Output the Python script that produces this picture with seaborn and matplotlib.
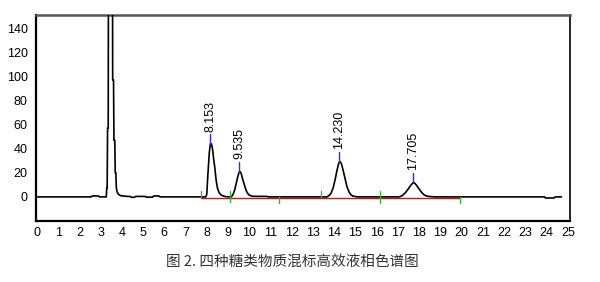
import matplotlib
matplotlib.use("Agg")
import matplotlib.pyplot as plt
import seaborn as sns
import pandas as pd
from matplotlib.ticker import MultipleLocator

# ---- data ----
time = [0.0, 2.55, 2.6, 2.9, 2.95, 3.27, 3.29, 3.31, 3.33, 3.36, 3.38, 3.55, 3.57, 3.61,
        3.63, 3.67, 3.69, 3.72, 3.74, 3.78, 3.85, 3.95, 4.2, 4.4, 4.45, 4.6, 4.65, 5.1,
        5.15, 5.45, 5.5, 5.75, 5.8, 7.95,
        8.0, 8.05, 8.12, 8.17, 8.22, 8.27, 8.32, 8.38, 8.44, 8.5, 8.58, 8.68, 8.78, 8.9, 9.15,
        9.22, 9.3, 9.37, 9.45, 9.52, 9.57, 9.62, 9.7, 9.77, 9.86, 9.96, 10.06, 10.16, 10.85, 10.9,
        13.65, 13.75, 13.85, 13.95, 14.05, 14.13, 14.22, 14.28, 14.34, 14.42, 14.5, 14.6, 14.7,
        14.8, 14.9, 15.05, 15.1,
        17.05, 17.2, 17.35, 17.5, 17.62, 17.72, 17.78, 17.88, 17.98, 18.08, 18.18, 18.3, 18.45,
        18.6, 18.75,
        23.9, 23.95, 24.35, 24.4, 24.7]
signal = [0.0, 0.0, 0.8, 0.8, 0.0, 0.0, 7.5, 7.5, 57, 57, 300, 300, 97, 97,
          47, 47, 20, 20, 8, 4, 2, 1, 0.5, 0.3, -0.3, -0.3, 0.4, 0.4,
          -0.2, -0.2, 0.8, 0.8, 0.0, 0.0,
          2, 18, 37, 44, 44, 40, 32, 24, 14, 7.5, 3.5, 1.5, 0.8, 0.2, 0.0,
          1.5, 5, 10, 16, 20.5, 21, 19.5, 14, 10, 5, 2, 1, 0.5, 0.4, 0.0,
          0.0, 1, 3, 7.5, 15, 22, 28.5, 29.3, 27.5, 22, 16, 8.5, 4,
          1.5, 0.6, 0.2, 0.0,
          0.0, 1, 3.5, 7, 10, 11.9, 11.6, 9.5, 7, 4.5, 2.5, 1, 0.4,
          0.2, 0.0,
          0.0, -0.9, -0.9, 0.0, 0.0]

peak_rt = [8.153, 9.535, 14.230, 17.705]
peak_height = [44, 21, 29.3, 11.9]
peak_labels = ["8.153", "9.535", "14.230", "17.705"]

marker_rt = [7.73, 9.07, 11.39, 13.37, 16.14, 19.93]
marker_lo = [0, -4.5, -5, 0, -5, -5]
marker_hi = [5, 4.5, 0, 5, 5, 0]

baseline_span = [7.73, 19.93]

x_ticks = list(range(0, 26))
y_ticks = [0, 20, 40, 60, 80, 100, 120, 140]
caption = "图 2. 四种糖类物质混标高效液相色谱图"

# ---- figure ----
sns.set_style("white")
plt.rcParams["font.family"] = ["Liberation Sans", "DejaVu Sans"]

fig = plt.figure(figsize=(6.0, 2.82), dpi=100)
ax = fig.add_axes([36 / 600, 1 - 221 / 282, (570 - 36) / 600, (221 - 15) / 282])

df = pd.DataFrame({"time": time, "signal": signal})
ax.plot(baseline_span, [-0.5, -0.5], color="#9a2a2a", lw=1.0, zorder=2)
sns.lineplot(data=df, x="time", y="signal", sort=False, estimator=None,
             color="black", lw=1.2, ax=ax, zorder=3)

for rt, lo, hi in zip(marker_rt, marker_lo, marker_hi):
    ax.plot([rt, rt], [lo, hi], color="#3cb043", lw=1.0, zorder=4)

for rt, h, lab in zip(peak_rt, peak_height, peak_labels):
    ax.plot([rt, rt], [h, h + 8], color="#2828ff", lw=1.0, zorder=4)
    ax.annotate(lab, xy=(rt, h + 9), xytext=(0, 1), textcoords="offset points",
                rotation=90, ha="center", va="bottom", fontsize=9, color="black")

ax.set_xlim(-0.04, 25.1)
ax.set_ylim(-20, 151)
ax.set_xticks(x_ticks)
ax.set_xticklabels([str(v) for v in x_ticks])
ax.set_yticks(y_ticks)
ax.set_yticklabels([str(v) for v in y_ticks])
ax.xaxis.set_minor_locator(MultipleLocator(0.2))
ax.yaxis.set_minor_locator(MultipleLocator(5))
ax.tick_params(axis="x", which="major", direction="in", length=3, width=0.8,
               labelsize=9, pad=4, colors="black")
ax.tick_params(axis="x", which="minor", direction="in", length=2, width=0.6)
ax.tick_params(axis="y", which="major", direction="out", length=4, width=0.8,
               labelsize=9, pad=2, colors="black")
ax.tick_params(axis="y", which="minor", direction="out", length=2, width=0.6)
ax.set_xlabel("")
ax.set_ylabel("")

for side in ["left", "bottom", "right"]:
    ax.spines[side].set_color("black")
    ax.spines[side].set_linewidth(1.6)
ax.spines["right"].set_linewidth(1.2)
ax.spines["top"].set_color("#555555")
ax.spines["top"].set_linewidth(1.8)

fig.text(0.488, 1 - 262 / 282, caption, ha="center", va="center", fontsize=10.5,
         color="#333333", family=["Noto Sans CJK SC", "DejaVu Sans"])

fig.savefig("out.png", dpi=100)
